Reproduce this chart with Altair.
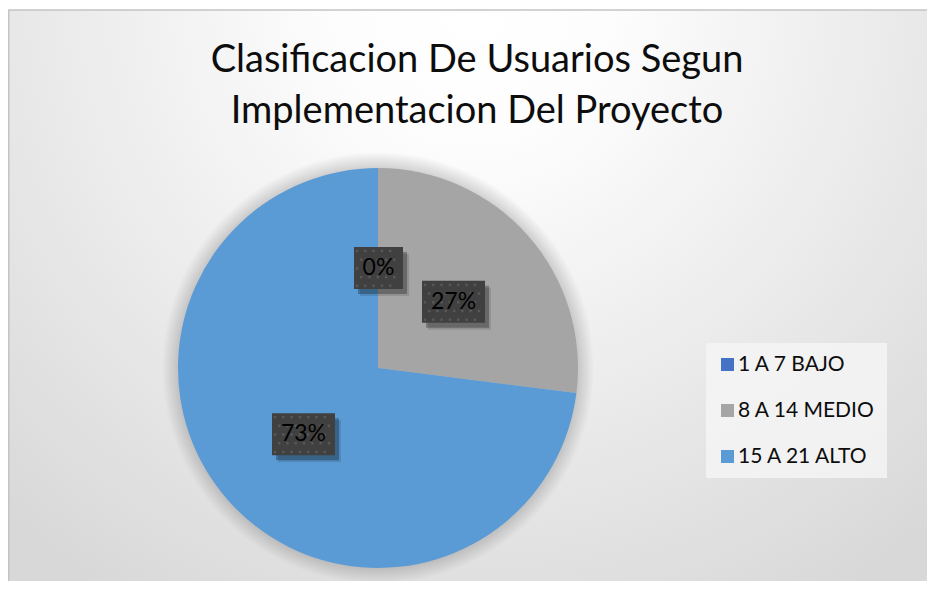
import altair as alt
import pandas as pd

# ---------------- data ----------------
categorias = ["1 A 7 BAJO", "8 A 14 MEDIO", "15 A 21 ALTO"]
porcentajes = [0, 27, 73]
orden = [0, 1, 2]
etiquetas = ["0%", "27%", "73%"]
colores = ["#4472C4", "#A5A5A5", "#5B9BD5"]
titulo = ["Clasificacion De Usuarios Segun", "Implementacion Del Proyecto"]

# ---------------- layout ----------------
W, H = 919, 573
CX, CY, R = 370, 360, 200
FONT = "Lato"

df = pd.DataFrame({"categoria": categorias, "valor": porcentajes,
                   "orden": orden, "etiqueta": etiquetas})
uno = pd.DataFrame({"k": [0]})

fondo = alt.Chart(uno).mark_rect(
    fill={"gradient": "radial", "x1": 0.5, "y1": 0.18, "r1": 0,
          "x2": 0.5, "y2": 0.18, "r2": 0.75,
          "stops": [{"offset": 0, "color": "#ffffff"},
                    {"offset": 0.2, "color": "#fdfdfd"},
                    {"offset": 1, "color": "#d8d8d8"}]},
    stroke="#c4c4c4", strokeWidth=1.5,
).encode(x=alt.value(0.75), x2=alt.value(W + 10), y=alt.value(2), y2=alt.value(H + 10))

titulo1 = alt.Chart(uno).mark_text(
    text=titulo[0], font=FONT, fontSize=38, color="#0d0d0d",
    align="center", baseline="middle",
).encode(x=alt.value(469), y=alt.value(53))
titulo2 = alt.Chart(uno).mark_text(
    text=titulo[1], font=FONT, fontSize=38, color="#0d0d0d",
    align="center", baseline="middle",
).encode(x=alt.value(469), y=alt.value(104))

halo = alt.Chart(uno).mark_arc(
    radius=R + 16, theta=0, theta2=6.2832,
    fill={"gradient": "radial", "x1": 0.5, "y1": 0.5, "r1": 0,
          "x2": 0.5, "y2": 0.5, "r2": 0.5,
          "stops": [{"offset": 0, "color": "rgba(0,0,0,0.25)"},
                    {"offset": R / (R + 16), "color": "rgba(0,0,0,0.16)"},
                    {"offset": 1, "color": "rgba(0,0,0,0)"}]},
).encode(x=alt.value(CX), y=alt.value(CY))

base = alt.Chart(df)

pastel = base.mark_arc(radius=R).encode(
    theta=alt.Theta("valor:Q", stack=True),
    color=alt.Color(
        "categoria:N",
        scale=alt.Scale(domain=categorias, range=colores),
        sort=categorias,
        legend=alt.Legend(
            title=None, orient="none", legendX=698, legendY=335,
            symbolType="square", symbolSize=169, symbolStrokeWidth=0,
            labelFont=FONT, labelFontSize=21, labelColor="#0d0d0d",
            labelOffset=0, rowPadding=24, padding=11,
            fillColor="rgba(244,244,244,0.85)",
        ),
    ),
    order=alt.Order("orden:Q"),
    x=alt.value(CX), y=alt.value(CY),
)

pos = base.transform_joinaggregate(
    total="sum(valor)"
).transform_window(
    acum="sum(valor)", sort=[alt.SortField("orden")], frame=[None, 0]
).transform_calculate(
    medio="(datum.acum - datum.valor / 2) / datum.total * 2 * PI",
    bx=f"{CX} + {R / 2} * sin(datum.medio) + 0.5",
    by=f"{CY} - {R / 2} * cos(datum.medio)",
    ancho="21 + 14 * length(datum.etiqueta)",
).transform_calculate(
    x0="datum.bx - datum.ancho / 2", x1="datum.bx + datum.ancho / 2",
    y0="datum.by - 21", y1="datum.by + 21",
).transform_calculate(
    sx0="datum.x0 + 4", sx1="datum.x1 + 4", sy0="datum.y0 + 5", sy1="datum.y1 + 5",
)

sombra = pos.mark_rect(fill="#000000", opacity=0.28).encode(
    x=alt.X("sx0:Q", scale=None), x2="sx1:Q",
    y=alt.Y("sy0:Q", scale=None), y2="sy1:Q",
)
sombra2 = pos.mark_rect(fill="#000000", opacity=0.12).encode(
    x=alt.X("sx0:Q", scale=None), x2="sx1:Q",
    y=alt.Y("sy0:Q", scale=None), y2="sy1:Q",
).transform_calculate(sx0="datum.sx0 + 2", sx1="datum.sx1 + 2",
                      sy0="datum.sy0 + 2", sy1="datum.sy1 + 2")

caja = pos.mark_rect(fill="#404040").encode(
    x=alt.X("x0:Q", scale=None), x2="x1:Q",
    y=alt.Y("y0:Q", scale=None), y2="y1:Q",
)

puntos = pos.transform_calculate(
    gx="sequence(0, floor(datum.ancho / 8.3))",
    gy="sequence(0, 5)",
).transform_flatten(["gx"]).transform_flatten(["gy"]).transform_calculate(
    px="datum.x0 + 3 + datum.gx * 8.3 + (datum.gy % 2) * 4.15",
    py="datum.y0 + 4 + datum.gy * 8.7",
).transform_filter("datum.px < datum.x1 - 1").mark_square(
    size=6, color="#585858", opacity=1
).encode(x=alt.X("px:Q", scale=None), y=alt.Y("py:Q", scale=None))

texto = pos.mark_text(
    font=FONT, fontSize=23, color="#000000", align="center", baseline="middle"
).encode(
    x=alt.X("bx:Q", scale=None), y=alt.Y("by:Q", scale=None),
    text="etiqueta:N",
)

chart = alt.layer(
    fondo, titulo1, titulo2, halo, pastel, sombra2, sombra, caja, puntos, texto
).properties(
    width=W, height=H, autosize=alt.AutoSizeParams(type="none"), padding=0
).configure_view(stroke=None)

chart.save("out.html", embed_options={"renderer": "svg", "actions": False})
